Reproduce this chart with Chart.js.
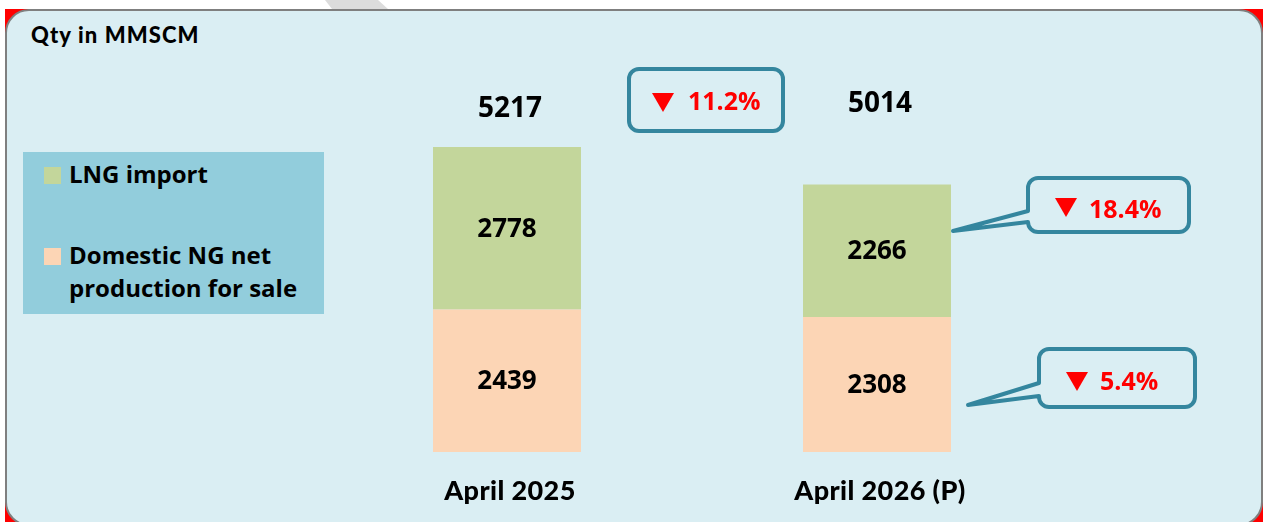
<!DOCTYPE html>
<html>
<head>
<meta charset="utf-8">
<script src="https://cdn.jsdelivr.net/npm/chart.js@4/dist/chart.umd.min.js"></script>
<style>
    body { margin: 0; width: 1266px; height: 522px; background: #fff; overflow: hidden; position: relative; }
    .stripe { position: absolute; left: 325px; top: 0; width: 63px; height: 9px; background: #dcdcdc;
              clip-path: polygon(0 0, 53px 0, 63px 9px, 7px 9px); }
    .corners { position: absolute; left: 5px; top: 9px; width: 1258px; height: 517px; background: #ff0000; }
    .panel { position: absolute; left: 5px; top: 9px; width: 1258px; height: 517px; box-sizing: border-box;
             border: 2px solid #7f7f7f; border-radius: 24px; background: #daeef3; }
    .title { position: absolute; left: 31px; top: 24px; font: 900 22px Lato, sans-serif; line-height: 22px;
             letter-spacing: 1.1px; color: #000; }
    .legend { position: absolute; left: 23px; top: 152px; width: 301px; height: 162px; background: #92cddc; }
    .legend .swatch { position: absolute; left: 21px; width: 17px; height: 17px; }
    .legend .label { position: absolute; left: 46px; font: bold 24px "Open Sans", sans-serif; line-height: 33px;
                     color: #000; white-space: nowrap; }
    #gas-chart { position: absolute; left: 0; top: 0; }
</style>
</head>
<body>
<div class="stripe"></div>
<div class="corners"></div>
<div class="panel"></div>
<div class="title">Qty in MMSCM</div>
<div class="legend">
    <div class="swatch" id="sw-lng" style="top: 15px;"></div>
    <div class="label" style="top: 5px;">LNG import</div>
    <div class="swatch" id="sw-dom" style="top: 96px;"></div>
    <div class="label" style="top: 86px;">Domestic NG net<br>production for sale</div>
</div>
<canvas id="gas-chart" width="1266" height="522"></canvas>
<script>
const categories = ['April 2025', 'April 2026 (P)'];
const lngImport = [2778, 2266];
const domesticProduction = [2439, 2308];
const totals = [5217, 5014];
const totalChange = 11.2;
const lngChange = 18.4;
const domesticChange = 5.4;

const GREEN = '#c3d69b';
const PEACH = '#fcd5b5';
const CALLOUT = '#34869e';

document.getElementById('sw-lng').style.background = GREEN;
document.getElementById('sw-dom').style.background = PEACH;

const stackSums = categories.map((c, i) => lngImport[i] + domesticProduction[i]);

// callout boxes (annotations, not data marks)
const callouts = [
    { text: totalChange.toFixed(1) + '%', x: 629, y: 69, w: 154, h: 62, tri: [652, 93], tx: 688, ty: 110 },
    { text: lngChange.toFixed(1) + '%', x: 1028, y: 178, w: 161, h: 54, tri: [1055, 198], tx: 1089, ty: 218,
      wedge: { y1: 211, y2: 222, tipX: 953, tipY: 231 } },
    { text: domesticChange.toFixed(1) + '%', x: 1039, y: 349, w: 156, h: 58, tri: [1066, 372], tx: 1100, ty: 390,
      wedge: { y1: 383, y2: 396, tipX: 968, tipY: 405 } }
];

function drawCallout(ctx, c) {
    const r = 10;
    const { x, y, w, h } = c;
    ctx.beginPath();
    ctx.moveTo(x + r, y);
    ctx.lineTo(x + w - r, y);
    ctx.arcTo(x + w, y, x + w, y + r, r);
    ctx.lineTo(x + w, y + h - r);
    ctx.arcTo(x + w, y + h, x + w - r, y + h, r);
    ctx.lineTo(x + r, y + h);
    ctx.arcTo(x, y + h, x, y + h - r, r);
    if (c.wedge) {
        ctx.lineTo(x, c.wedge.y2);
        ctx.lineTo(c.wedge.tipX, c.wedge.tipY);
        ctx.lineTo(x, c.wedge.y1);
    }
    ctx.lineTo(x, y + r);
    ctx.arcTo(x, y, x + r, y, r);
    ctx.closePath();
    ctx.lineWidth = 4;
    ctx.lineJoin = 'round';
    ctx.strokeStyle = CALLOUT;
    ctx.stroke();

    // down arrow
    const [ax, ay] = c.tri;
    ctx.beginPath();
    ctx.moveTo(ax, ay);
    ctx.lineTo(ax + 22, ay);
    ctx.lineTo(ax + 11, ay + 19);
    ctx.closePath();
    ctx.fillStyle = '#ff0000';
    ctx.fill();

    ctx.font = 'bold 25px "Open Sans", sans-serif';
    ctx.textAlign = 'left';
    ctx.textBaseline = 'alphabetic';
    ctx.fillText(c.text, c.tx, c.ty);
}

const labelPlugin = {
    id: 'labels',
    afterDatasetsDraw(chart) {
        const ctx = chart.ctx;
        ctx.save();
        ctx.fillStyle = '#000';
        ctx.textAlign = 'center';

        // values inside each segment
        ctx.font = 'bold 26px "Open Sans", sans-serif';
        ctx.textBaseline = 'middle';
        chart.data.datasets.forEach((ds, di) => {
            chart.getDatasetMeta(di).data.forEach((bar, i) => {
                ctx.fillText(String(ds.data[i]), bar.x, (bar.y + bar.base) / 2 + 1);
            });
        });

        // totals above bars
        const xScale = chart.scales.x;
        const totalBaseline = [117, 112];
        ctx.font = 'bold 28px "Open Sans", sans-serif';
        ctx.textBaseline = 'alphabetic';
        totals.forEach((t, i) => {
            ctx.fillText(String(t), xScale.getPixelForValue(i) + 3, totalBaseline[i]);
        });

        // category labels
        ctx.font = '900 27px Lato, sans-serif';
        ctx.letterSpacing = '0.4px';
        categories.forEach((c, i) => {
            ctx.fillText(c, xScale.getPixelForValue(i) + 3, 500);
        });
        ctx.letterSpacing = '0px';

        callouts.forEach(c => drawCallout(ctx, c));
        ctx.restore();
    }
};

new Chart(document.getElementById('gas-chart'), {
    type: 'bar',
    data: {
        labels: categories,
        datasets: [
            { label: 'Domestic NG net production for sale', data: domesticProduction, backgroundColor: PEACH,
              borderWidth: 0, barPercentage: 0.4, categoryPercentage: 1 },
            { label: 'LNG import', data: lngImport, backgroundColor: GREEN,
              borderWidth: 0, barPercentage: 0.4, categoryPercentage: 1 }
        ]
    },
    options: {
        responsive: false,
        animation: false,
        layout: { padding: { left: 322, right: 204, top: 147, bottom: 70 } },
        plugins: {
            legend: { display: false },
            tooltip: { enabled: false }
        },
        scales: {
            x: { stacked: true, display: false },
            y: { stacked: true, display: false, min: 0, max: Math.max(...stackSums) }
        }
    },
    plugins: [labelPlugin]
});
</script>
</body>
</html>
